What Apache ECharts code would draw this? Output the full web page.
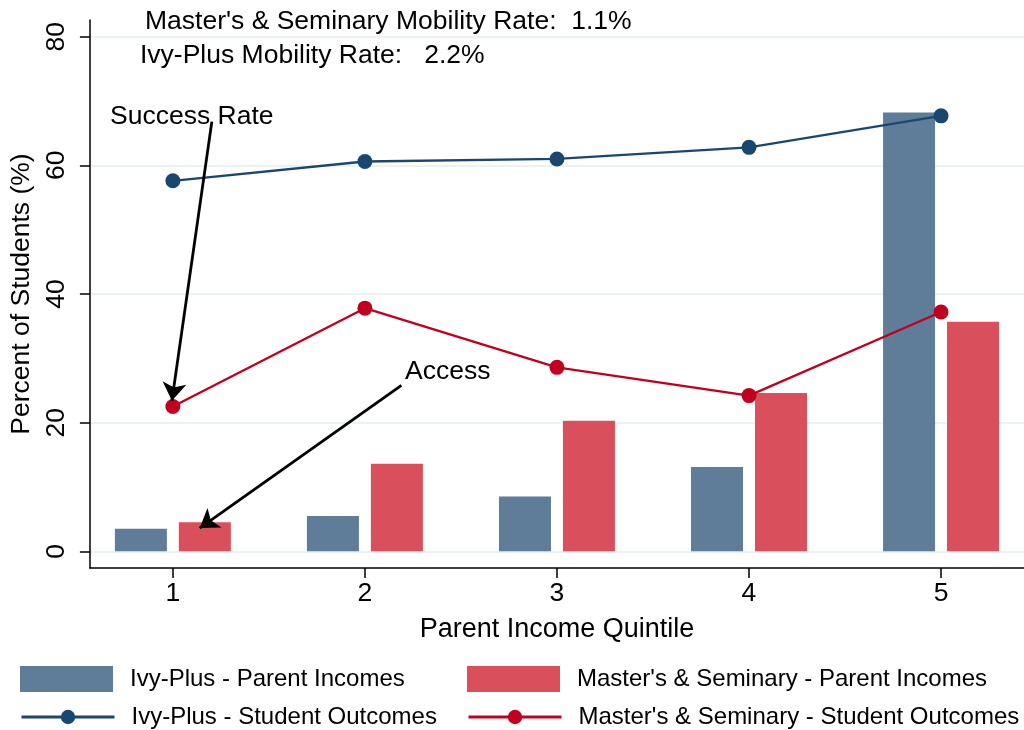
<!DOCTYPE html>
<html>
<head>
<meta charset="utf-8">
<script src="https://cdn.jsdelivr.net/npm/echarts@6/dist/echarts.min.js"></script>
<style>html,body{margin:0;padding:0;background:#fff}#c{width:1024px;height:730px}</style>
</head>
<body>
<div id="c"></div>
<script>
const quintiles = [1, 2, 3, 4, 5];
const ivyParent = [3.5, 5.5, 8.5, 13.1, 68.2];
const msParent = [4.5, 13.6, 20.3, 24.6, 35.7];
const ivyOutcome = [57.6, 60.6, 61.0, 62.8, 67.7];
const msOutcome = [22.5, 37.8, 28.6, 24.2, 37.2];
const yTicks = [0, 20, 40, 60, 80];
const seriesNames = ['Ivy-Plus - Parent Incomes', "Master's & Seminary - Parent Incomes", 'Ivy-Plus - Student Outcomes', "Master's & Seminary - Student Outcomes"];
const noteLines = ["Master's & Seminary Mobility Rate:  1.1%", 'Ivy-Plus Mobility Rate:   2.2%'];
// annotation arrows: [fromX, fromY, toX, toY] in data units
const successArrow = [1.203, 66.8, 0.995, 23.4];
const accessArrow = [2.19, 25.8, 1.14, 3.6];
const successLabel = 'Success Rate';
const accessLabel = 'Access';

const FONT = '"Liberation Sans", Arial, sans-serif';
const pair = (xs, ys) => xs.map((x, i) => [x, ys[i]]);

const chart = echarts.init(document.getElementById('c'), null, {renderer: 'canvas'});

function legendItem(name, left, top, h, icon) {
  const d = icon ? {name: name, icon: icon} : {name: name};
  const l = {
    data: [d], left: left, top: top, padding: 0, orient: 'horizontal',
    itemWidth: 93, itemHeight: h, selectedMode: false,
    textStyle: {fontSize: 24, fontFamily: FONT, color: '#000', padding: [0, 0, 0, 12]}
  };
  if (!icon) l.lineStyle = {width: 3};
  return l;
}

const option = {
  animation: false,
  backgroundColor: '#fff',
  grid: {left: 89, right: 0, top: 20, height: 548, containLabel: false},
  xAxis: {
    type: 'value', min: 0.568, max: 5.432,
    name: 'Parent Income Quintile', nameLocation: 'middle', nameGap: 48,
    nameTextStyle: {fontSize: 27, fontFamily: FONT, color: '#000'},
    axisLine: {show: true, onZero: false, lineStyle: {color: '#000', width: 1.5}},
    axisTick: {show: true, length: 10, customValues: quintiles, lineStyle: {color: '#000', width: 1.5}},
    axisLabel: {customValues: quintiles, fontSize: 26.5, fontFamily: FONT, color: '#000', margin: 12},
    splitLine: {show: false}
  },
  yAxis: {
    type: 'value', min: -2.6, max: 82.6,
    name: 'Percent of Students (%)', nameLocation: 'middle', nameGap: 52, nameRotate: 90,
    nameTextStyle: {fontSize: 26.5, fontFamily: FONT, color: '#000'},
    axisLine: {show: true, onZero: false, lineStyle: {color: '#000', width: 1.5}},
    axisTick: {show: true, length: 10, customValues: yTicks, lineStyle: {color: '#000', width: 1.5}},
    axisLabel: {customValues: yTicks, rotate: 90, fontSize: 26.5, fontFamily: FONT, color: '#000', margin: 20},
    splitLine: {show: true, lineStyle: {color: '#eaf2f3', width: 2}}
  },
  legend: [
    legendItem(seriesNames[0], 20, 666, 26, 'rect'),
    legendItem(seriesNames[1], 467, 666, 26, 'rect'),
    legendItem(seriesNames[2], 20, 705, 18),
    legendItem(seriesNames[3], 467, 705, 18)
  ],
  series: [
    {
      name: seriesNames[0], type: 'bar', data: pair(quintiles, ivyParent),
      barWidth: 52, barGap: '23%', itemStyle: {color: '#5f7d99'}, z: 2
    },
    {
      name: seriesNames[1], type: 'bar', data: pair(quintiles, msParent),
      barWidth: 52, barGap: '23%', itemStyle: {color: '#d94f5b'}, z: 2
    },
    {
      name: seriesNames[2], type: 'line', data: pair(quintiles, ivyOutcome),
      symbol: 'circle', symbolSize: 15, lineStyle: {color: '#1a476f', width: 2.3},
      itemStyle: {color: '#1a476f'}, z: 3
    },
    {
      name: seriesNames[3], type: 'line', data: pair(quintiles, msOutcome),
      symbol: 'circle', symbolSize: 15, lineStyle: {color: '#c10020', width: 2.3},
      itemStyle: {color: '#c10020'}, z: 3,
      markLine: {
        silent: true, symbol: ['none', 'arrow'], symbolSize: 18,
        label: {show: false}, emphasis: {disabled: true},
        lineStyle: {color: '#000', width: 2.8, type: 'solid'},
        data: [
          [{coord: [successArrow[0], successArrow[1]]}, {coord: [successArrow[2], successArrow[3]]}],
          [{coord: [accessArrow[0], accessArrow[1]]}, {coord: [accessArrow[2], accessArrow[3]]}]
        ]
      }
    }
  ],
  graphic: [
    {type: 'text', x: 145, y: 22, style: {text: noteLines[0], font: '26.5px ' + FONT, fill: '#000', verticalAlign: 'middle'}},
    {type: 'text', x: 140, y: 56, style: {text: noteLines[1], font: '26.5px ' + FONT, fill: '#000', verticalAlign: 'middle'}},
    {type: 'text', x: 110, y: 117, style: {text: successLabel, font: '26.5px ' + FONT, fill: '#000', verticalAlign: 'middle'}},
    {type: 'text', x: 405, y: 372, style: {text: accessLabel, font: '26.5px ' + FONT, fill: '#000', verticalAlign: 'middle'}}
  ]
};
chart.setOption(option);
</script>
</body>
</html>
